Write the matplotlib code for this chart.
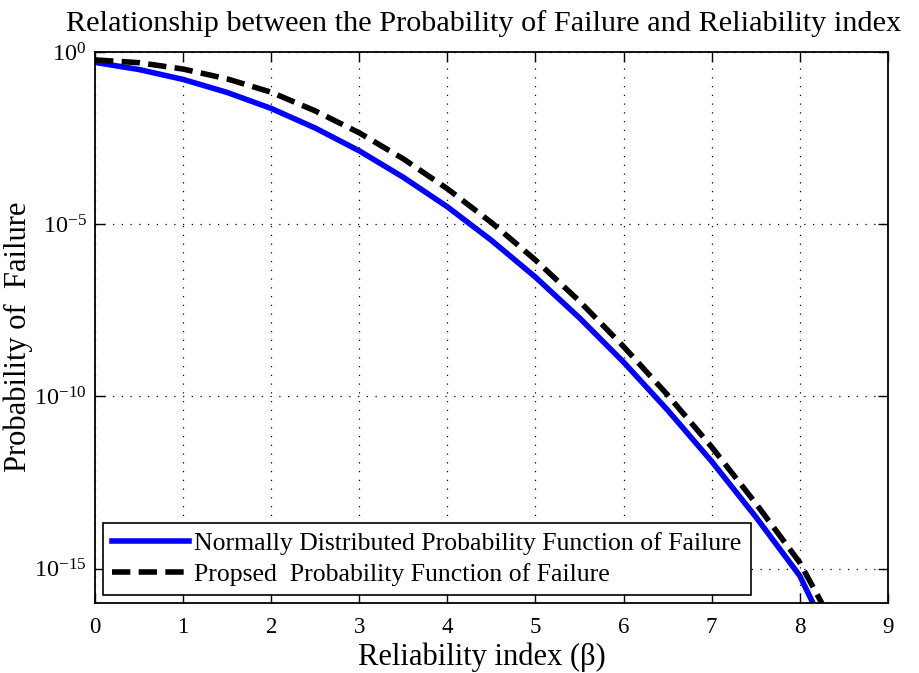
import numpy as np
import matplotlib
matplotlib.use("Agg")
import matplotlib.pyplot as plt
from matplotlib.ticker import FixedLocator, NullLocator

plt.rcParams['font.family'] = ['Liberation Serif', 'DejaVu Serif']
plt.rcParams['mathtext.fontset'] = 'custom'
plt.rcParams['mathtext.rm'] = 'Liberation Serif'
plt.rcParams['mathtext.it'] = 'Liberation Serif:italic'

# reliability index values
beta = [0, 0.5, 1, 1.5, 2, 2.5, 3, 3.5, 4, 4.5, 5, 5.5, 6, 6.5, 7, 7.5, 8, 8.15]
# normal-distribution probability of failure
pf_normal = [0.5, 0.31, 0.16, 0.067, 0.023, 6.2e-3, 1.35e-3, 2.3e-4, 3.2e-5,
             3.4e-6, 2.9e-7, 1.9e-8, 9.9e-10, 4.0e-11, 1.3e-12, 3.2e-14,
             6.2e-16, 1.0e-16]

beta_prop = [0, 0.5, 1, 1.5, 2, 2.5, 3, 3.5, 4, 4.5, 5, 5.5, 6, 6.5, 7, 7.5, 8, 8.25]
# proposed probability of failure
pf_prop = [0.59, 0.49, 0.32, 0.166, 0.068, 0.0195, 4.5e-3, 7.9e-4, 1.07e-4,
           1.12e-5, 9.1e-7, 5.8e-8, 2.8e-9, 1.1e-10, 3.4e-12, 7.9e-14,
           1.5e-15, 1.0e-16]

xticks = list(range(0, 10))
yticks = [1e0, 1e-5, 1e-10, 1e-15]

fig = plt.figure(figsize=(9.2, 6.73), dpi=100)
ax = fig.add_axes([0.1033, 0.104, 0.8617, 0.8187])

ax.semilogy(beta, pf_normal, color='#0000ff', lw=4,
            label='Normally Distributed Probability Function of Failure')
ax.semilogy(beta_prop, pf_prop, color='black', lw=4, dashes=(3.3, 1.5),
            label='Propsed  Probability Function of Failure')

ax.set_xlim(0, 9)
ax.set_ylim(1e-16, 1)
ax.xaxis.set_major_locator(FixedLocator(xticks))
ax.yaxis.set_major_locator(FixedLocator(yticks))
ax.yaxis.set_minor_locator(NullLocator())

ax.grid(True, which='major', color='black', linestyle=(0, (1, 6)), lw=0.9)
ax.tick_params(direction='in', top=True, right=True, length=7, width=1)
ax.tick_params(axis='x', labelsize=16.5, pad=10)
ax.tick_params(axis='y', labelsize=17.5, pad=6)
for s in ax.spines.values():
    s.set_linewidth(1.3)

ax.set_title('Relationship between the Probability of Failure and Reliability index',
             fontsize=21.8, pad=15, x=0.4905)
ax.set_xlabel('Reliability index (β)', fontsize=22)
ax.set_ylabel('Probability of  Failure', fontsize=22)
ax.xaxis.set_label_coords(0.488, -0.072)
ax.yaxis.set_label_coords(-0.078, 0.483)

leg = ax.legend(loc='lower left', fontsize=18.5, handlelength=3.0,
                fancybox=False, edgecolor='black', framealpha=1,
                borderaxespad=0.32, labelspacing=0.3, handletextpad=0.2,
                borderpad=0.35)
leg.get_frame().set_linewidth(1.2)

fig.savefig('out.png', dpi=100)
